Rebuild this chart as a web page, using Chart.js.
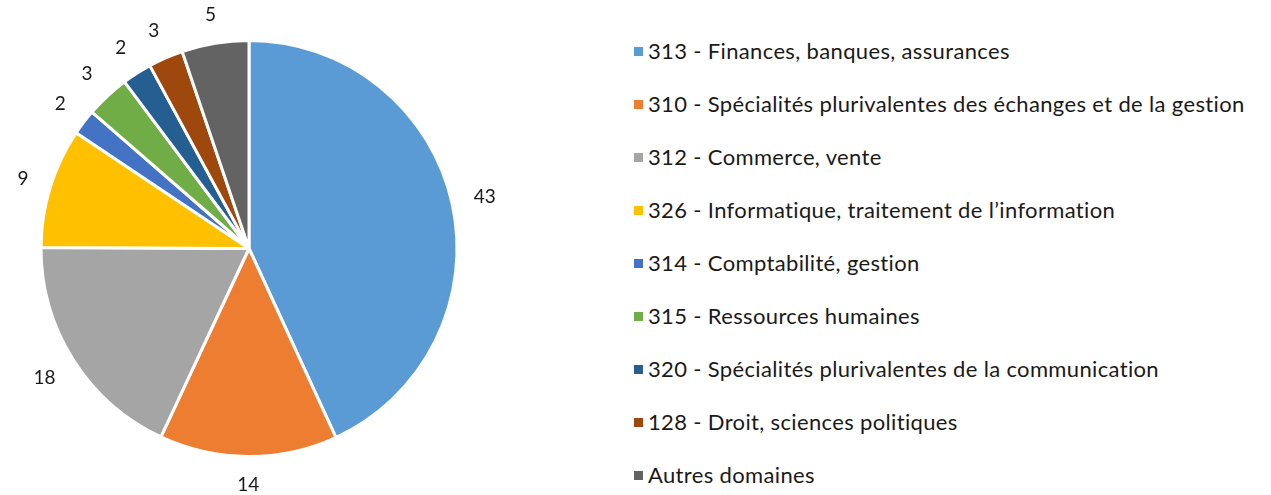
<!DOCTYPE html>
<html>
<head>
<meta charset="utf-8">
<script src="https://cdn.jsdelivr.net/npm/chart.js@4"></script>
<style>
  html, body { margin: 0; padding: 0; background: #fff; }
  body { width: 1271px; height: 495px; position: relative; overflow: hidden; font-family: Lato, 'Open Sans', sans-serif; }
  #pieBox { position: absolute; left: 0; top: 0; width: 498px; height: 497px; }
  #legend { position: absolute; left: 634px; top: 0; list-style: none; margin: 0; padding: 0; }
  #legend li { position: absolute; left: 0; white-space: nowrap; font-size: 22px; letter-spacing: 0.35px; color: #1a1a1a; height: 24px; line-height: 24px; }
  #legend .sw { position: absolute; left: 0; top: 8px; width: 9px; height: 9px; }
  #legend .tx { position: absolute; left: 14px; top: 0; }
</style>
</head>
<body>
<div id="pieBox"><canvas id="pieChart"></canvas></div>
<ul id="legend"></ul>
<script>
// Domain labels and shares, clockwise from the top
const domains = [
    '313 - Finances, banques, assurances',
    '310 - Spécialités plurivalentes des échanges et de la gestion',
    '312 - Commerce, vente',
    '326 - Informatique, traitement de l\u2019information',
    '314 - Comptabilité, gestion',
    '315 - Ressources humaines',
    '320 - Spécialités plurivalentes de la communication',
    '128 - Droit, sciences politiques',
    'Autres domaines'
];
const shares = [43.1, 13.8, 18.1, 9.3, 2.0, 3.4, 2.3, 2.7, 5.2];
const sliceColors = ['#5b9bd5', '#ed7d31', '#a5a5a5', '#ffc000', '#4472c4', '#70ad47', '#255e91', '#9e480e', '#636363'];

// Rounded values written just outside each slice, box kept a fixed gap from the edge
const outsideLabels = {
    id: 'outsideLabels',
    afterDatasetsDraw(chart) {
        const { ctx } = chart;
        const meta = chart.getDatasetMeta(0);
        ctx.save();
        ctx.font = "19px Lato, 'Open Sans', sans-serif";
        ctx.fillStyle = '#1a1a1a';
        ctx.textAlign = 'center';
        ctx.textBaseline = 'middle';
        meta.data.forEach((arc, i) => {
            const p = arc.getProps(['x', 'y', 'startAngle', 'endAngle', 'outerRadius'], true);
            const mid = (p.startAngle + p.endAngle) / 2;
            const txt = String(Math.round(shares[i]));
            const halfW = ctx.measureText(txt).width / 2;
            const r = p.outerRadius + 21 + Math.abs(Math.cos(mid)) * halfW + Math.abs(Math.sin(mid)) * 7;
            ctx.fillText(txt, p.x + Math.cos(mid) * r, p.y + Math.sin(mid) * r);
        });
        ctx.restore();
    }
};

new Chart(document.getElementById('pieChart'), {
    type: 'pie',
    data: {
        labels: domains,
        datasets: [{
            data: shares,
            backgroundColor: sliceColors,
            borderColor: '#ffffff',
            borderWidth: 3
        }]
    },
    options: {
        responsive: true,
        maintainAspectRatio: false,
        animation: false,
        layout: { padding: 39 },
        plugins: {
            legend: { display: false },
            tooltip: { enabled: false }
        }
    },
    plugins: [outsideLabels]
});

// Legend on the right
const legend = document.getElementById('legend');
domains.forEach((name, i) => {
    const li = document.createElement('li');
    li.style.top = (39 + i * 53) + 'px';
    li.innerHTML = '<span class="sw" style="background:' + sliceColors[i] + '"></span><span class="tx"></span>';
    li.querySelector('.tx').textContent = name;
    legend.appendChild(li);
});
</script>
</body>
</html>
